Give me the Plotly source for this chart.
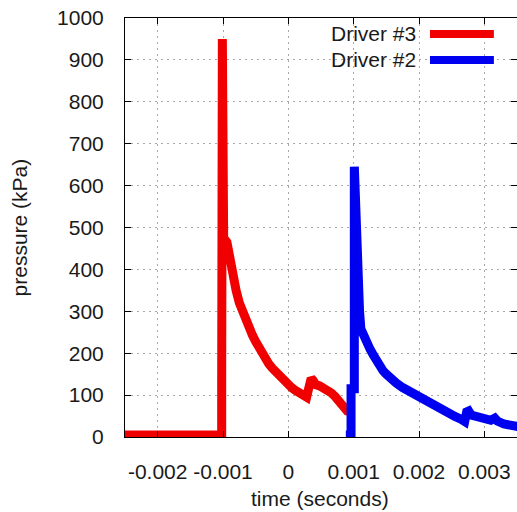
import plotly.graph_objects as go

# ---- data ----
series_names = ["Driver #3", "Driver #2"]
series_colors = ["#f00000", "#0000f0"]

red_t = [-0.0025, -0.00102, -0.00102, -0.00101, -0.00099, -0.00094, -0.00090,
         -0.00085, -0.00080, -0.00075, -0.00070, -0.00065, -0.00060, -0.00055,
         -0.00050, -0.00045, -0.00040, -0.00035, -0.00030, -0.00025, -0.00020,
         -0.00015, -0.00010, -0.00005, 0.0, 0.00005, 0.00010, 0.00015, 0.00020,
         0.00025, 0.00028, 0.00031, 0.00035, 0.00038, 0.00042, 0.00048, 0.00054,
         0.00060, 0.00066, 0.00072, 0.00078, 0.00084, 0.00090, 0.00096]
red_v = [5, 5, 140, 950, 475, 465, 425,
         380, 350, 320, 298, 278, 258, 243,
         228, 213, 198, 186, 175, 165, 156,
         147, 138, 130, 124, 118, 112, 106, 98,
         92, 95, 115, 140, 135, 125, 122, 118,
         112, 105, 96, 85, 68, 62, 60]

blue_t = [0.00088, 0.00096, 0.00096, 0.00101, 0.00101, 0.00106, 0.00109, 0.00111,
          0.00115, 0.00120, 0.00125, 0.00130, 0.00135, 0.00140, 0.00145, 0.00150,
          0.00156, 0.00165, 0.00175, 0.00185, 0.00195, 0.00205, 0.00215, 0.00225,
          0.00235, 0.00245, 0.00255, 0.00265, 0.00270, 0.00273, 0.00276, 0.00280,
          0.00290, 0.00300, 0.00310, 0.00316, 0.00320, 0.00330, 0.00340, 0.00355]
blue_v = [5, 5, 115, 115, 645, 325, 300, 258,
          240, 225, 210, 196, 181, 168, 158, 150,
          140, 129, 118, 109, 99, 90, 81, 70,
          62, 55, 49, 42, 37, 60, 62, 52,
          47, 42, 40, 45, 38, 31, 27, 24]

x_tickvals = [-0.002, -0.001, 0, 0.001, 0.002, 0.003]
x_ticktext = ["-0.002", "-0.001", "0", "0.001", "0.002", "0.003"]
y_tickvals = [0, 100, 200, 300, 400, 500, 600, 700, 800, 900, 1000]
y_ticktext = [str(v) for v in y_tickvals]
x_range = [-0.0025, 0.0035]
y_range = [0, 1000]

FONT = "Liberation Sans, Arial, sans-serif"
TXT = "#1a1a1a"

fig = go.Figure()
fig.add_trace(go.Scatter(x=red_t, y=red_v, mode="lines", name=series_names[0],
                         line=dict(color=series_colors[0], width=9), showlegend=False))
fig.add_trace(go.Scatter(x=blue_t, y=blue_v, mode="lines", name=series_names[1],
                         line=dict(color=series_colors[1], width=9), showlegend=False))

axis_common = dict(
    showline=True, linecolor="black", linewidth=1, mirror="ticks",
    ticks="inside", ticklen=6, tickcolor="black",
    showgrid=True, gridcolor="#a8a8a8", griddash="2px,4px", gridwidth=1,
    zeroline=False, tickfont=dict(family=FONT, size=21, color=TXT),
)

fig.update_xaxes(range=x_range, tickvals=x_tickvals, ticktext=x_ticktext,
                 ticklabelstandoff=16, **axis_common)
fig.update_yaxes(range=y_range, tickvals=y_tickvals, ticktext=y_ticktext,
                 ticklabelstandoff=16, **axis_common)

# legend box (gnuplot style: text left, sample right, opaque background)
shapes = [dict(type="rect", xref="paper", yref="paper", x0=0.459, x1=0.977,
               y0=0.87, y1=0.995, fillcolor="white", line=dict(width=0), layer="between")]
annotations = []
legend_y = [0.962, 0.900]
for name, color, yy in zip(series_names, series_colors, legend_y):
    annotations.append(dict(xref="paper", yref="paper", x=0.7474, y=yy, text=name,
                            showarrow=False, xanchor="right", yanchor="middle",
                            font=dict(family=FONT, size=21, color=TXT)))
    shapes.append(dict(type="line", xref="paper", yref="paper", x0=0.778, x1=0.941,
                       y0=yy, y1=yy, line=dict(color=color, width=8), layer="above"))

annotations.append(dict(xref="paper", yref="paper", x=-0.268, y=0.5, text="pressure (kPa)",
                        textangle=-90, showarrow=False, xanchor="center", yanchor="middle",
                        font=dict(family=FONT, size=21, color=TXT)))
annotations.append(dict(xref="paper", yref="paper", x=0.497, y=-0.146, text="time (seconds)",
                        showarrow=False, xanchor="center", yanchor="middle",
                        font=dict(family=FONT, size=21, color=TXT)))

fig.update_layout(
    width=517, height=512,
    margin=dict(l=125, r=0, t=18, b=75, autoexpand=False),
    paper_bgcolor="white", plot_bgcolor="white",
    shapes=shapes, annotations=annotations,
    font=dict(family=FONT, color=TXT),
)

fig.write_html("out.html")
